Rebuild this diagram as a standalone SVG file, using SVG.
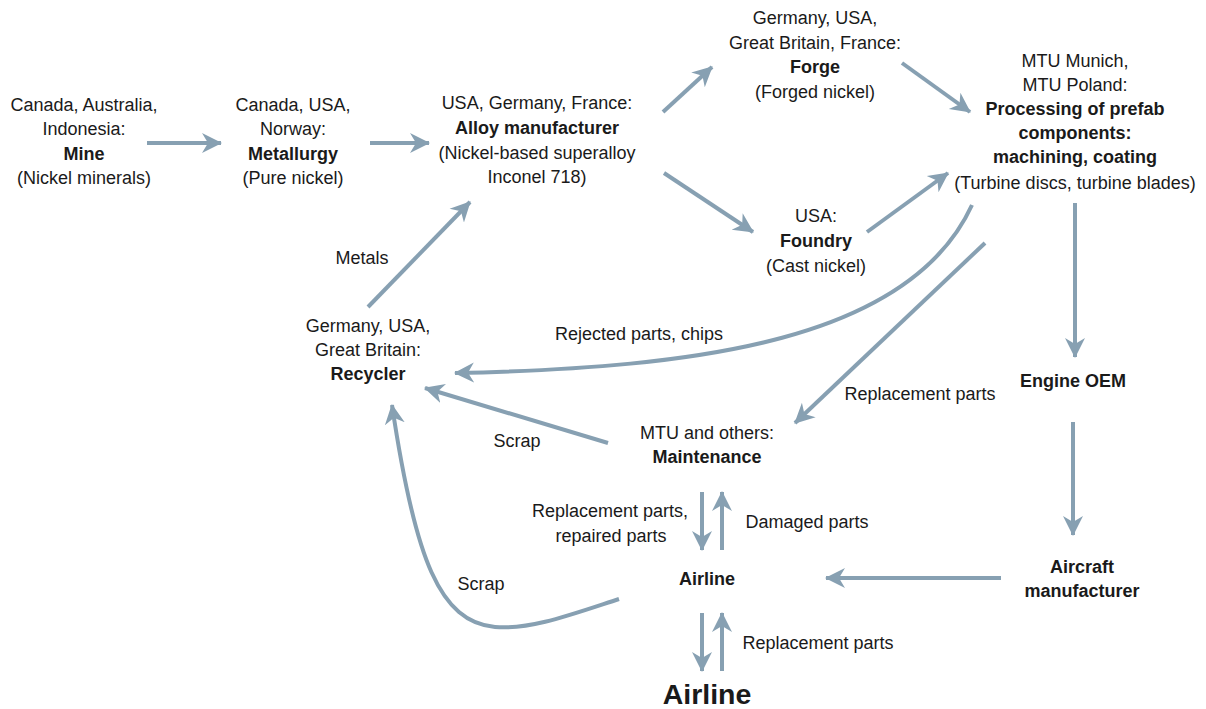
<svg xmlns="http://www.w3.org/2000/svg" width="1206" height="709" viewBox="0 0 1206 709">
<style>
text{font-family:"Liberation Sans",Arial,sans-serif;font-size:18px;fill:#1a1a1a;text-anchor:middle}
.b{font-weight:bold}
.big{font-size:28.5px;font-weight:bold}
.c{fill:none;stroke:#87a0b2;stroke-width:4;marker-end:url(#ah)}
</style>
<defs>
<marker id="ah" markerUnits="userSpaceOnUse" markerWidth="22" markerHeight="24" viewBox="0 0 22 24" refX="19" refY="12" orient="auto">
<path d="M0,2 L20,12 L0,22 L6,12 z" fill="#87a0b2"/>
</marker>
</defs>
<rect width="1206" height="709" fill="#fff"/>
<g id="connectors">
<path class="c" d="M147,143 L221,143"/>
<path class="c" d="M370,143 L429,143"/>
<path class="c" d="M663,112 L712,67"/>
<path class="c" d="M902,63 L970,112"/>
<path class="c" d="M664,173 L753,232"/>
<path class="c" d="M867,232 L948,173"/>
<path class="c" d="M1075,203 L1075,357"/>
<path class="c" d="M1073,422 L1073,535"/>
<path class="c" d="M1001,578 L826,578"/>
<path class="c" d="M972,205 C910,340 700,368 455,373"/>
<path class="c" d="M985,243 L795,423"/>
<path class="c" d="M608,443 L425,388"/>
<path class="c" d="M619,599 C570,615 530,630 495,627 C440,622 415,560 392,405"/>
<path class="c" d="M368,307 L470,202"/>
<path class="c" d="M702,492 L702,550"/>
<path class="c" d="M722,550 L722,492"/>
<path class="c" d="M702,613 L702,671"/>
<path class="c" d="M722,671 L722,613"/>
</g>
<g id="labels">
<text x="362" y="264">Metals</text>
<text x="639" y="340">Rejected parts, chips</text>
<text x="920" y="400">Replacement parts</text>
<text x="517" y="447">Scrap</text>
<text x="610" y="517">Replacement parts,</text>
<text x="611" y="542">repaired parts</text>
<text x="807" y="528">Damaged parts</text>
<text x="481" y="590">Scrap</text>
<text x="818" y="649">Replacement parts</text>
</g>
<g id="mine">
<text x="84" y="111">Canada, Australia,</text>
<text x="84" y="135">Indonesia:</text>
<text x="84" y="160" class="b">Mine</text>
<text x="84" y="184">(Nickel minerals)</text>
</g>
<g id="metallurgy">
<text x="293" y="111">Canada, USA,</text>
<text x="293" y="135">Norway:</text>
<text x="293" y="160" class="b">Metallurgy</text>
<text x="293" y="184">(Pure nickel)</text>
</g>
<g id="alloy">
<text x="537" y="109">USA, Germany, France:</text>
<text x="537" y="134" class="b">Alloy manufacturer</text>
<text x="537" y="159">(Nickel-based superalloy</text>
<text x="537" y="183">Inconel 718)</text>
</g>
<g id="forge">
<text x="815" y="24">Germany, USA,</text>
<text x="815" y="49">Great Britain, France:</text>
<text x="815" y="73" class="b">Forge</text>
<text x="815" y="98">(Forged nickel)</text>
</g>
<g id="processing">
<text x="1075" y="67">MTU Munich,</text>
<text x="1075" y="91">MTU Poland:</text>
<text x="1075" y="115" class="b">Processing of prefab</text>
<text x="1075" y="139" class="b">components:</text>
<text x="1075" y="163" class="b">machining, coating</text>
<text x="1075" y="189">(Turbine discs, turbine blades)</text>
</g>
<g id="foundry">
<text x="816" y="222">USA:</text>
<text x="816" y="247" class="b">Foundry</text>
<text x="816" y="272">(Cast nickel)</text>
</g>
<g id="recycler">
<text x="368" y="332">Germany, USA,</text>
<text x="368" y="356">Great Britain:</text>
<text x="368" y="380" class="b">Recycler</text>
</g>
<g id="maintenance">
<text x="707" y="439">MTU and others:</text>
<text x="707" y="463" class="b">Maintenance</text>
</g>
<g id="engine-oem">
<text x="1073" y="387" class="b">Engine OEM</text>
</g>
<g id="aircraft-manufacturer">
<text x="1082" y="573" class="b">Aircraft</text>
<text x="1082" y="597" class="b">manufacturer</text>
</g>
<g id="airline">
<text x="707" y="585" class="b">Airline</text>
</g>
<g id="airline-2">
<text x="707" y="704" class="big">Airline</text>
</g>
</svg>
